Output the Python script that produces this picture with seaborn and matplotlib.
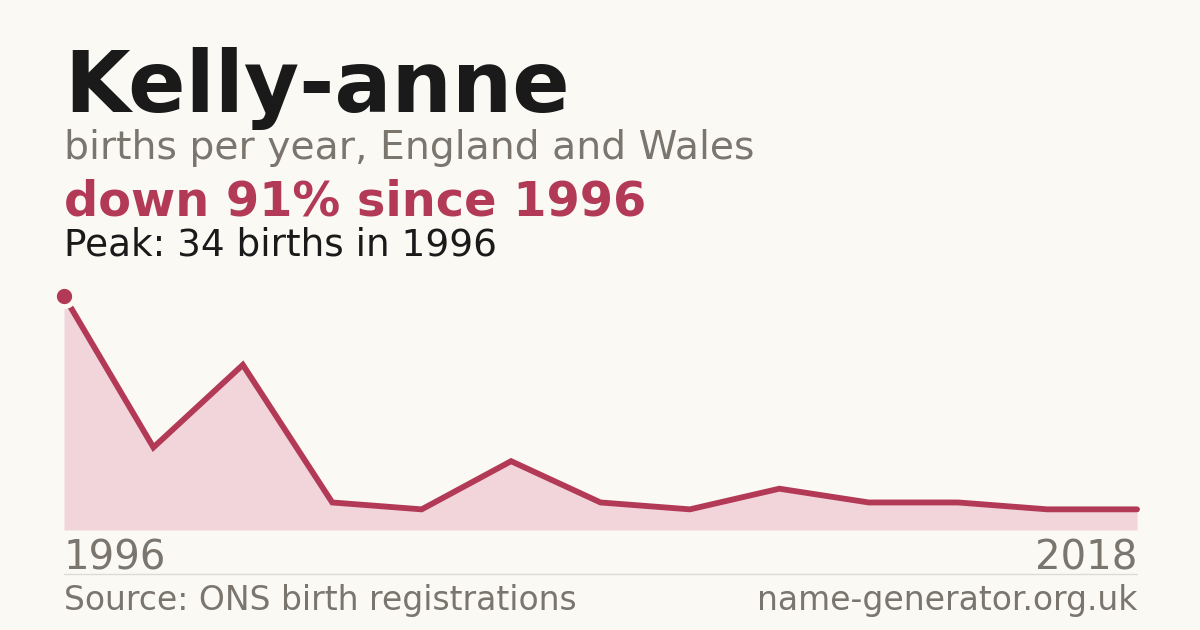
import matplotlib
matplotlib.use("Agg")
import matplotlib.pyplot as plt
import seaborn as sns
import pandas as pd

# ---- data ----
births = [34, 12, 24, 4, 3, 10, 4, 3, 6, 4, 4, 3, 3]
first_year = "1996"
last_year = "2018"
name = "Kelly-anne"
subtitle = "births per year, England and Wales"
headline = "down 91% since 1996"
peak_text = "Peak: 34 births in 1996"
source_text = "Source: ONS birth registrations"
site_text = "name-generator.org.uk"

BG = "#faf9f4"
RED = "#b33a57"
FILL = "#f1d5db"
GRAY = "#7a756d"
DARK = "#1a1a1a"

sns.set_theme(style="white")
plt.rcParams["font.family"] = ["DejaVu Sans"]

W, H = 1200, 630
fig = plt.figure(figsize=(12, 6.3), dpi=100, facecolor=BG)

def px(x, y):
    return x / W, 1 - y / H

ax = fig.add_axes([64 / W, 1 - 530 / H, (1137 - 64) / W, (530 - 296) / H])
ax.set_facecolor(BG)
df = pd.DataFrame({"idx": range(len(births)), "births": births})
ax.fill_between(df["idx"], 0, df["births"], color=FILL, lw=0, zorder=1)
sns.lineplot(data=df, x="idx", y="births", ax=ax, color=RED, lw=4.2,
             zorder=2, solid_joinstyle="miter")
for l in ax.lines:
    l.set_clip_on(False)
ax.plot([df["idx"].iloc[0]], [df["births"].iloc[0]], "o", ms=14.5, color=RED,
        mec=BG, mew=3.5, zorder=3, clip_on=False)
ax.set_xlim(0, len(births) - 1)
ax.set_ylim(0, max(births))
ax.axis("off")

# texts
fig.text(*px(64, 112), name, fontsize=61, fontweight="bold", color=DARK, va="baseline")
fig.text(*px(64, 159), subtitle, fontsize=28.3, color=GRAY, va="baseline")
fig.text(*px(64, 215), headline, fontsize=34.5, fontweight="bold", color=RED, va="baseline")
fig.text(*px(64, 255), peak_text, fontsize=26.9, color=DARK, va="baseline")
fig.text(*px(64, 570), first_year, fontsize=29, color=GRAY, va="baseline")
fig.text(*px(1137, 570), last_year, fontsize=29, color=GRAY, va="baseline", ha="right")
fig.add_artist(plt.Line2D([64 / W, 1137 / W], [1 - 574 / H] * 2, color="#dddbd5", lw=1))
fig.text(*px(64, 610), source_text, fontsize=23.8, color=GRAY, va="baseline")
fig.text(*px(1137, 610), site_text, fontsize=23.8, color=GRAY, va="baseline", ha="right")

fig.savefig("out.png", dpi=100, facecolor=BG)
